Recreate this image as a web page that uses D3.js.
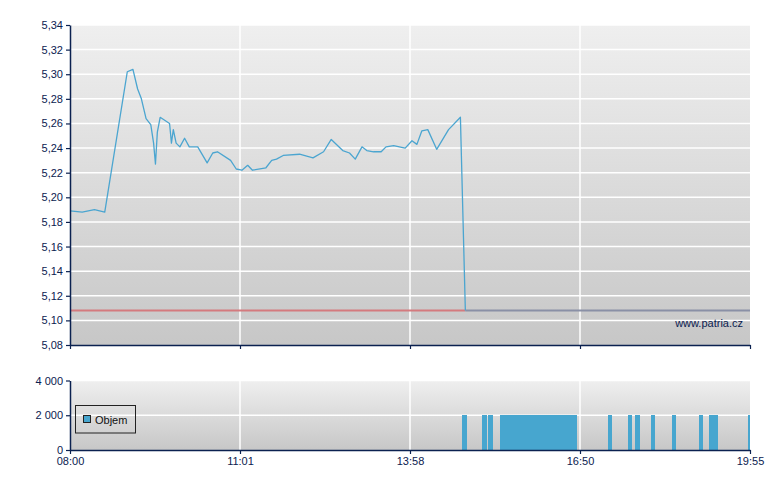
<!DOCTYPE html>
<html>
<head>
<meta charset="utf-8">
<script src="https://cdn.jsdelivr.net/npm/d3@7"></script>
<style>
  html, body { margin: 0; padding: 0; background: #ffffff; }
  svg { display: block; font-family: "Liberation Sans", Arial, sans-serif; }
</style>
</head>
<body>
<svg id="chart" width="780" height="490"></svg>
<script>
// ---- data ----
const xTickLabels = ["08:00", "11:01", "13:58", "16:50", "19:55"];
const priceTicks = [5.08, 5.10, 5.12, 5.14, 5.16, 5.18, 5.20, 5.22, 5.24, 5.26, 5.28, 5.30, 5.32, 5.34];
const volumeTicks = [0, 2000, 4000];
const prevClose = 5.108;

const priceTimes = ["08:00","08:13","08:26","08:37","09:01","09:07","09:12","09:16","09:21","09:26",
  "09:29","09:31","09:33","09:36","09:46","09:48","09:50","09:53","09:57","10:02",
  "10:07","10:16","10:26","10:32","10:37","10:51","10:57","11:03","11:09","11:14",
  "11:28","11:34","11:39","11:46","12:03","12:17","12:28","12:36","12:48","12:55",
  "13:01","13:08","13:13","13:20","13:28","13:33","13:41","13:53","14:00","14:05",
  "14:10","14:16","14:25","14:37","14:49","14:54"];
const priceValues = [5.189,5.188,5.190,5.188,5.302,5.304,5.288,5.280,5.264,5.259,
  5.244,5.227,5.253,5.265,5.260,5.244,5.255,5.244,5.241,5.248,
  5.241,5.241,5.228,5.236,5.237,5.230,5.223,5.222,5.226,5.222,
  5.224,5.230,5.231,5.234,5.235,5.232,5.237,5.247,5.238,5.236,
  5.231,5.241,5.238,5.237,5.237,5.241,5.242,5.240,5.246,5.243,
  5.254,5.255,5.239,5.255,5.265,5.108];
const closingTime = "19:55";

const volumeTimes = ["14:51","15:11","15:17","15:29","15:34","15:39","15:44","15:49","15:54","15:59",
  "16:04","16:09","16:14","16:19","16:24","16:29","16:34","16:39","16:42","17:20",
  "17:42","17:50","18:07","18:30","18:59","19:10","19:15","19:53"];
const volumeValues = [2000,2000,2000,2000,2000,2000,2000,2000,2000,2000,
  2000,2000,2000,2000,2000,2000,2000,2000,2000,2000,
  2000,2000,2000,2000,2000,2000,2000,2000];
const barMinutes = 5;

// ---- helpers ----
const toMin = s => { const [h, m] = s.split(":").map(Number); return (h - 8) * 60 + m; };
const locale = d3.formatLocale({ decimal: ",", thousands: "\u00a0", grouping: [3], currency: ["", ""] });
const fmtPrice = locale.format(".2f");
const fmtVol = d => locale.format(",")(d).replace(/\u00a0/g, " ");

const navy = "#0b2150";
const L = 70, R = 750;
const topY0 = 25, topY1 = 345;
const volY0 = 380.5, volY1 = 450;

const svg = d3.select("#chart");
const defs = svg.append("defs");
const grad = defs.append("linearGradient").attr("id", "bg").attr("x1", 0).attr("y1", 0).attr("x2", 0).attr("y2", 1);
grad.append("stop").attr("offset", "0%").attr("stop-color", "#efefef");
grad.append("stop").attr("offset", "100%").attr("stop-color", "#c7c7c7");
defs.append("clipPath").attr("id", "clipVol").append("rect")
  .attr("x", L).attr("y", volY0).attr("width", R - L).attr("height", volY1 - volY0);

const xTickMins = xTickLabels.map(toMin);
const x = d3.scaleLinear().domain(xTickMins).range(d3.range(xTickMins.length).map(i => L + i * (R - L) / (xTickMins.length - 1)));
const y = d3.scaleLinear().domain([priceTicks[0], priceTicks[priceTicks.length - 1]]).range([topY1, topY0]);
const yv = d3.scaleLinear().domain([0, 4000]).range([volY1, volY0]);

// ---- price panel ----
svg.append("rect").attr("x", L).attr("y", topY0).attr("width", R - L).attr("height", topY1 - topY0).attr("fill", "url(#bg)");
svg.append("g").selectAll("line").data(priceTicks.slice(1)).join("line")
  .attr("x1", L).attr("x2", R).attr("y1", d => y(d)).attr("y2", d => y(d))
  .attr("stroke", "#ffffff").attr("stroke-width", 1.5);
svg.append("g").selectAll("line").data(xTickMins.slice(1, -1)).join("line")
  .attr("x1", d => x(d)).attr("x2", d => x(d)).attr("y1", topY0).attr("y2", topY1)
  .attr("stroke", "#ffffff").attr("stroke-width", 1.5);

const pts = priceTimes.map((t, i) => ({ t: toMin(t), v: priceValues[i] }));
const lastT = pts[pts.length - 1].t;

// previous close reference line
svg.append("line").attr("x1", L).attr("x2", x(lastT)).attr("y1", y(prevClose)).attr("y2", y(prevClose))
  .attr("stroke", "#d47a7e").attr("stroke-width", 2);
svg.append("line").attr("x1", x(lastT)).attr("x2", x(toMin(closingTime))).attr("y1", y(prevClose)).attr("y2", y(prevClose))
  .attr("stroke", "#8a90a6").attr("stroke-width", 2);

svg.append("path").datum(pts)
  .attr("d", d3.line().x(d => x(d.t)).y(d => y(d.v)))
  .attr("fill", "none").attr("stroke", "#4ba5d0").attr("stroke-width", 1.3).attr("stroke-linejoin", "round");

svg.append("text").attr("x", 743).attr("y", 327).attr("text-anchor", "end")
  .attr("font-size", 11).attr("fill", navy).text("www.patria.cz");

// axes price
svg.append("g").attr("transform", `translate(${L},0)`)
  .call(d3.axisLeft(y).tickValues(priceTicks).tickFormat(fmtPrice).tickSize(4).tickSizeOuter(0));
svg.append("g").attr("transform", `translate(0,${topY1})`)
  .call(d3.axisBottom(x).tickValues(xTickMins).tickFormat("").tickSize(4).tickSizeOuter(0));

// ---- volume panel ----
svg.append("rect").attr("x", L).attr("y", volY0).attr("width", R - L).attr("height", volY1 - volY0).attr("fill", "url(#bg)");
svg.append("g").selectAll("line").data(volumeTicks.slice(1)).join("line")
  .attr("x1", L).attr("x2", R).attr("y1", d => yv(d)).attr("y2", d => yv(d))
  .attr("stroke", "#ffffff").attr("stroke-width", 1.5);
svg.append("g").selectAll("line").data(xTickMins.slice(1, -1)).join("line")
  .attr("x1", d => x(d)).attr("x2", d => x(d)).attr("y1", volY0).attr("y2", volY1)
  .attr("stroke", "#ffffff").attr("stroke-width", 1.5);

svg.append("g").attr("clip-path", "url(#clipVol)").attr("shape-rendering", "crispEdges")
  .selectAll("rect")
  .data(volumeTimes.map((t, i) => ({ t: toMin(t), v: volumeValues[i] })))
  .join("rect")
  .attr("x", d => Math.round(x(d.t)))
  .attr("width", d => Math.round(x(d.t + barMinutes)) - Math.round(x(d.t)))
  .attr("y", d => Math.round(yv(d.v))).attr("height", d => Math.round(yv(0)) - Math.round(yv(d.v)))
  .attr("fill", "#47a6cf");

// legend
const lg = svg.append("g");
lg.append("rect").attr("x", 75.5).attr("y", 405.5).attr("width", 60).attr("height", 27.5)
  .attr("fill", "none").attr("stroke", "#222222").attr("stroke-width", 1);
lg.append("rect").attr("x", 83.5).attr("y", 415.5).attr("width", 7).attr("height", 7)
  .attr("fill", "#47a6cf").attr("stroke", "#222222").attr("stroke-width", 1);
lg.append("text").attr("x", 95).attr("y", 424).attr("font-size", 11).attr("fill", "#111111").text("Objem");

svg.append("g").attr("transform", `translate(${L},0)`)
  .call(d3.axisLeft(yv).tickValues(volumeTicks).tickFormat(fmtVol).tickSize(4).tickSizeOuter(0));
svg.append("g").attr("transform", `translate(0,${volY1})`)
  .call(d3.axisBottom(x).tickValues(xTickMins).tickFormat((d, i) => xTickLabels[i]).tickSize(4).tickSizeOuter(0));

// axis styling
svg.selectAll(".domain").attr("stroke", navy).attr("stroke-width", 1.5);
svg.selectAll(".tick line").attr("stroke", navy).attr("stroke-width", 1.2);
svg.selectAll(".tick text").attr("fill", navy).attr("font-size", 11)
  .attr("font-family", "'Liberation Sans', Arial, sans-serif");
</script>
</body>
</html>
